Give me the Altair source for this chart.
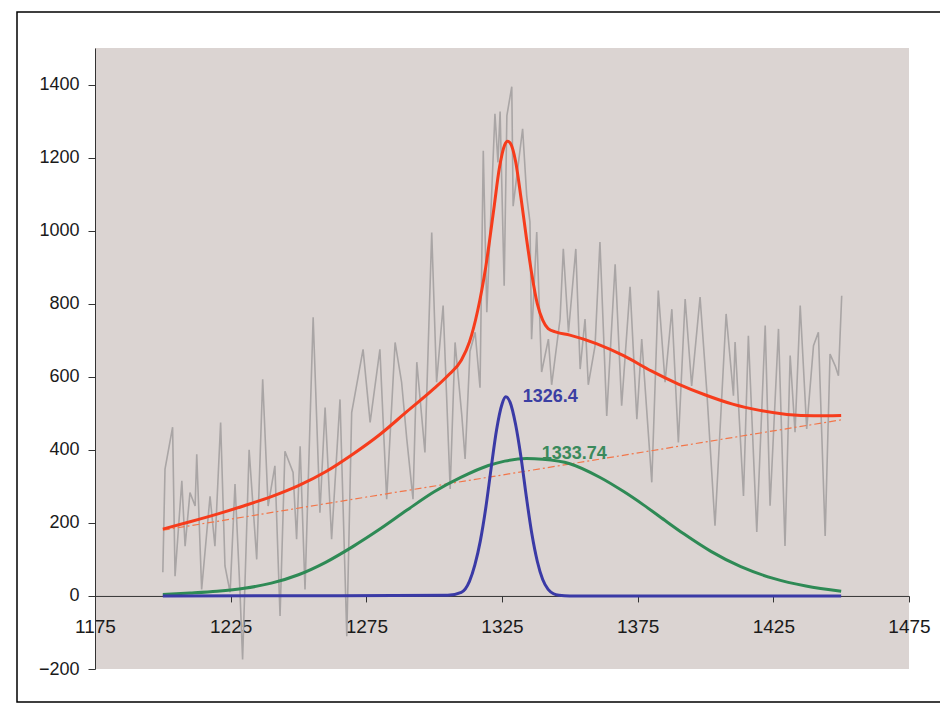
import altair as alt
import pandas as pd

# ---- measured spectrum (gray) ----
gray_x = [1200.0, 1200.8, 1203.6, 1204.5, 1207.0, 1208.2, 1210.0, 1211.9, 1212.5, 1214.3,
          1217.4, 1219.2, 1221.3, 1222.9, 1224.8, 1226.6, 1228.4, 1229.4, 1231.8, 1234.6,
          1236.8, 1238.8, 1241.3, 1243.2, 1245.0, 1248.0, 1249.3, 1250.6, 1252.4, 1255.4,
          1257.9, 1259.8, 1262.2, 1265.3, 1267.8, 1269.6, 1273.8, 1276.4, 1280.0, 1282.5,
          1285.6, 1288.0, 1289.9, 1292.2, 1293.6, 1296.6, 1299.1, 1300.9, 1303.3, 1305.9,
          1307.7, 1310.2, 1311.4, 1313.2, 1315.1, 1316.9, 1318.1, 1319.4, 1322.4, 1323.5,
          1324.3, 1325.8, 1326.8, 1328.6, 1329.1, 1332.6, 1334.1, 1335.3, 1335.9, 1337.8,
          1339.6, 1342.1, 1343.3, 1346.4, 1347.6, 1349.5, 1352.2, 1353.8, 1355.6, 1356.8,
          1359.3, 1361.1, 1363.6, 1366.7, 1369.1, 1372.2, 1374.7, 1376.5, 1380.2, 1382.6,
          1385.1, 1387.6, 1390.0, 1392.5, 1394.9, 1398.0, 1400.5, 1403.5, 1407.6, 1410.3,
          1410.9, 1414.0, 1415.8, 1418.9, 1422.0, 1423.8, 1426.9, 1429.3, 1431.2, 1433.0,
          1434.9, 1437.3, 1439.8, 1441.6, 1444.1, 1445.9, 1447.8, 1449.0, 1450.2]
gray_y = [65, 347, 462, 54, 315, 136, 283, 246, 388, 18,
          273, 136, 475, 82, 10, 306, 18, -174, 400, 100,
          593, 246, 356, -55, 396, 338, 155, 410, 18, 763,
          228, 516, 155, 538, -110, 502, 675, 475, 675, 265,
          694, 585, 430, 265, 640, 393, 995, 585, 795, 293,
          694, 493, 375, 670, 722, 570, 1219, 777, 1320, 1187,
          1326, 849, 1315, 1394, 1067, 1279, 1096, 1024, 703, 996,
          613, 703, 578, 758, 950, 722, 950, 621, 758, 578,
          685, 969, 493, 908, 521, 846, 484, 703, 311, 836,
          585, 785, 420, 813, 575, 818, 558, 192, 772, 548,
          695, 274, 712, 175, 740, 247, 731, 137, 658, 448,
          795, 457, 685, 722, 164, 662, 630, 603, 822]

# ---- total fit (red) ----
fit_x = [1200, 1210, 1220, 1230, 1240, 1250, 1260, 1270, 1280, 1290, 1300, 1305, 1310,
         1313, 1316, 1319, 1322, 1324, 1326, 1327, 1328, 1330, 1332, 1334, 1336, 1338,
         1340, 1342, 1345, 1350, 1360, 1370, 1380, 1390, 1400, 1410, 1420, 1430,
         1440, 1450]
fit_y = [183, 203, 224, 247, 272, 302, 340, 388, 442, 505, 568, 603, 645,
         695, 780, 900, 1060, 1170, 1235, 1245, 1240, 1190, 1090, 980, 880, 800,
         755, 732, 722, 714, 690, 657, 616, 580, 550, 525, 508, 497,
         493, 494]

# ---- baseline (dashed) ----
base_x = [1200, 1450]
base_y = [180, 482]

# ---- broad component (green) ----
green_x = [1200, 1210, 1220, 1230, 1240, 1250, 1260, 1270, 1280, 1290, 1300, 1310, 1320,
           1326, 1334, 1340, 1350, 1361, 1370, 1377, 1385, 1392, 1402, 1413, 1425, 1437, 1450]
green_y = [4, 8, 13, 21, 35, 58, 92, 135, 183, 235, 285, 325, 357,
           369, 376, 374, 362, 325, 285, 250, 207, 170, 122, 80, 48, 27, 13]

# ---- narrow component (blue) ----
blue_x = [1200, 1305, 1310, 1313, 1315, 1317, 1319, 1321, 1323, 1325, 1326.4, 1328, 1330,
          1332, 1334, 1336, 1338, 1340, 1342, 1344, 1346, 1350, 1450]
blue_y = [0, 2, 10, 40, 85, 150, 240, 350, 455, 525, 545, 530, 470,
          380, 270, 170, 95, 45, 18, 6, 2, 0, 0]

# ---- peak labels ----
lab_text = ["1326.4", "1333.74"]
lab_x = [1326.4, 1333.74]
lab_y = [545, 377]

x_ticks = [1175, 1225, 1275, 1325, 1375, 1425, 1475]
y_ticks = [-200, 0, 200, 400, 600, 800, 1000, 1200, 1400]

FONT = "Liberation Sans"

xenc = alt.X("x:Q", title=None,
             scale=alt.Scale(domain=[1175, 1475], nice=False, zero=False),
             axis=alt.Axis(values=x_ticks, offset=-73.06, tickSize=6, labelPadding=16,
                           labelFontSize=19, grid=False, format="d", labelFlush=False,
                           labelOverlap=False))
yenc = alt.Y("y:Q", title=None,
             scale=alt.Scale(domain=[-200, 1500], nice=False, zero=False),
             axis=alt.Axis(values=y_ticks, tickSize=7, labelPadding=9,
                           labelFontSize=18, grid=False, format="d", labelFlush=False,
                           labelOverlap=False))

def df(xs, ys):
    return pd.DataFrame({"x": xs, "y": ys})

gray = alt.Chart(df(gray_x, gray_y)).mark_line(color="#a9a5a5", strokeWidth=1.6).encode(x=xenc, y=yenc)
base = alt.Chart(df(base_x, base_y)).mark_line(color="#f2764a", strokeWidth=1.2,
                                               strokeDash=[7, 3, 2, 3]).encode(x=xenc, y=yenc)
red = alt.Chart(df(fit_x, fit_y)).mark_line(color="#f63c1c", strokeWidth=3, interpolate="monotone").encode(x=xenc, y=yenc)
green = alt.Chart(df(green_x, green_y)).mark_line(color="#2e8a55", strokeWidth=3, interpolate="monotone").encode(x=xenc, y=yenc)
blue = alt.Chart(df(blue_x, blue_y)).mark_line(color="#3a3aa6", strokeWidth=3, interpolate="monotone").encode(x=xenc, y=yenc)

labels_df = pd.DataFrame({"x": lab_x, "y": lab_y, "t": lab_text})
lab1 = alt.Chart(labels_df.iloc[[0]]).mark_text(align="left", baseline="middle", dx=17, dy=0,
                                                 font=FONT, fontSize=18, fontWeight="bold",
                                                 color="#3b3fa3").encode(x=xenc, y=yenc, text="t:N")
lab2 = alt.Chart(labels_df.iloc[[1]]).mark_text(align="left", baseline="middle", dx=16, dy=-4,
                                                 font=FONT, fontSize=18, fontWeight="bold",
                                                 color="#3a8a5c").encode(x=xenc, y=yenc, text="t:N")

frame = alt.Chart(pd.DataFrame({"k": [0]})).mark_rect(fill=None, stroke="#000000", strokeWidth=1.5).encode(
    x=alt.value(-78), x2=alt.value(860), y=alt.value(-36), y2=alt.value(654))

chart = alt.layer(gray, base, red, green, blue, lab1, lab2, frame).properties(
    width=814, height=621,
    autosize=alt.AutoSizeParams(type="none"),
    padding={"left": 87, "top": 40, "right": 31, "bottom": 34},
    background="#ffffff",
).configure_view(fill="#dbd4d2", stroke=None).configure_axis(
    labelFont=FONT, labelColor="#1a1a1a", domainColor="#333333", tickColor="#333333",
    domainWidth=1, tickWidth=1
)

chart.save("out.html", embed_options={"renderer": "svg", "actions": False})
